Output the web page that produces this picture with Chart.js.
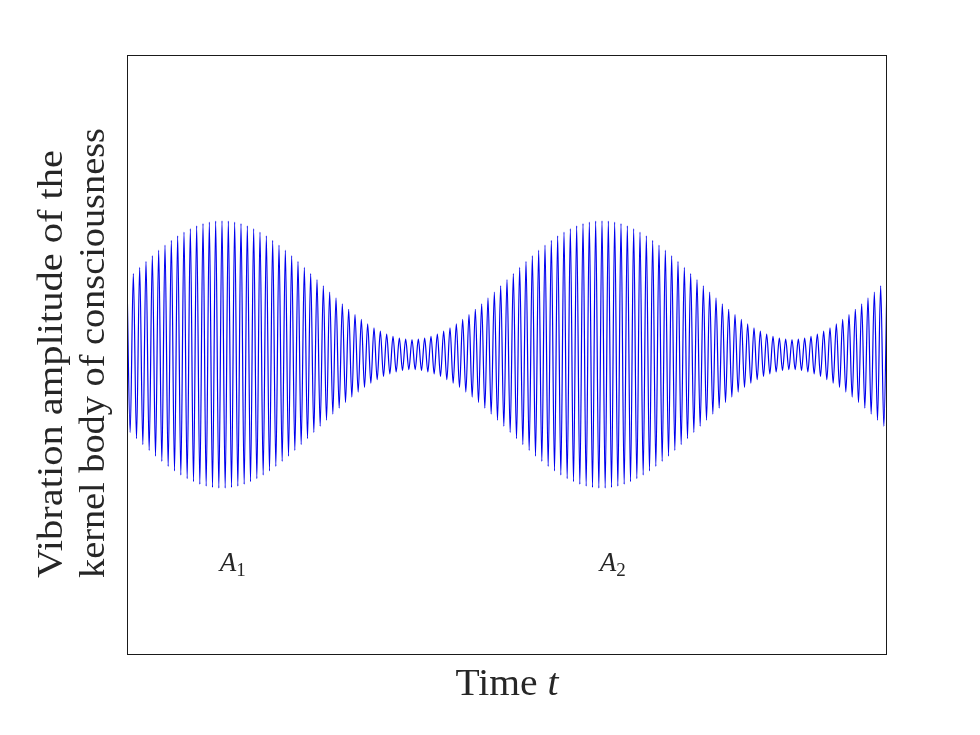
<!DOCTYPE html>
<html>
<head>
<meta charset="utf-8">
<script src="https://cdn.jsdelivr.net/npm/chart.js@4/dist/chart.umd.min.js"></script>
<style>
  body { margin: 0; background: #fff; }
  #wrap { width: 980px; height: 735px; }
</style>
</head>
<body>
<div id="wrap"><canvas id="mycanvas" width="980" height="735"></canvas></div>
<script>
// upper extrema of the carrier, one per cycle
var peakValues = [1.119,1.211,1.303,1.392,1.478,1.560,1.637,1.709,1.774,1.832,1.882,1.924,1.957,1.981,1.995,2.000,
  1.995,1.981,1.957,1.924,1.882,1.832,1.774,1.709,1.637,1.560,1.478,1.392,1.303,1.211,1.119,1.027,0.935,0.846,0.759,0.676,0.598,0.525,0.459,0.400,0.349,0.306,0.271,0.246,0.230,0.224,
  0.230,0.246,0.271,0.306,0.349,0.400,0.459,0.525,0.598,0.676,0.759,0.846,0.935,1.027,1.119,1.211,1.303,1.392,1.478,1.560,1.637,1.709,1.774,1.832,1.882,1.924,1.957,1.981,1.995,2.000,
  1.995,1.981,1.957,1.924,1.882,1.832,1.774,1.709,1.637,1.560,1.478,1.392,1.303,1.211,1.119,1.027,0.935,0.846,0.759,0.676,0.598,0.525,0.459,0.400,0.349,0.306,0.271,0.246,0.230,0.224,
  0.230,0.246,0.271,0.306,0.349,0.400,0.459,0.525,0.598,0.676,0.759,0.846,0.935,1.027,1.119]

// lower extrema, half a cycle after each peak
var troughValues = [-1.165,-1.257,-1.348,-1.435,-1.519,-1.599,-1.673,-1.742,-1.803,-1.857,-1.903,-1.941,-1.969,-1.988,-1.998,
  -1.998,-1.988,-1.969,-1.941,-1.903,-1.857,-1.803,-1.742,-1.673,-1.599,-1.519,-1.435,-1.348,-1.257,-1.165,-1.073,-0.981,-0.891,-0.803,-0.718,-0.637,-0.562,-0.492,-0.430,-0.375,-0.328,-0.289,-0.259,-0.238,-0.227,
  -0.227,-0.238,-0.259,-0.289,-0.328,-0.375,-0.430,-0.492,-0.562,-0.637,-0.718,-0.803,-0.891,-0.981,-1.073,-1.165,-1.257,-1.348,-1.435,-1.519,-1.599,-1.673,-1.742,-1.803,-1.857,-1.903,-1.941,-1.969,-1.988,-1.998,
  -1.998,-1.988,-1.969,-1.941,-1.903,-1.857,-1.803,-1.742,-1.673,-1.599,-1.519,-1.435,-1.348,-1.257,-1.165,-1.073,-0.981,-0.891,-0.803,-0.718,-0.637,-0.562,-0.492,-0.430,-0.375,-0.328,-0.289,-0.259,-0.238,-0.227,
  -0.227,-0.238,-0.259,-0.289,-0.328,-0.375,-0.430,-0.492,-0.562,-0.637,-0.718,-0.803,-0.891,-0.981,-1.073]

var labelNames = ['A', 'A']
var labelSubs = ['1', '2']
var labelX = [16.7, 76.7]
var labelY = -3.14

var yTitle = ['Vibration amplitude of the', 'kernel body of consciousness']
var xTitle = 'Time '
var xTitleVar = 't'

var SERIF = '"Liberation Serif", "DejaVu Serif", serif'

var signal = []
for (var i = 0; i < peakValues.length; i++) {
    signal.push({x: i, y: peakValues[i]})
    if (i < troughValues.length) signal.push({x: i + 0.5, y: troughValues[i]})
}

// draw text stretched to a given width
function fitText(ctx, txt, x, y, width, font){
    ctx.font = font
    var w = ctx.measureText(txt).width
    ctx.save()
    ctx.translate(x, y)
    ctx.scale(width / w, 1)
    ctx.fillText(txt, 0, 0)
    ctx.restore()
}

var decorations = {
    id: 'decorations',
    afterDraw: function(chart){
        var ctx = chart.ctx
        var a = chart.chartArea
        var xs = chart.scales.x, ys = chart.scales.y
        ctx.save()
        // frame
        ctx.strokeStyle = '#1a1a1a'
        ctx.lineWidth = 1
        ctx.strokeRect(Math.round(a.left) + 0.5, Math.round(a.top) + 0.5, Math.round(a.right - a.left) - 1, Math.round(a.bottom - a.top))

        ctx.fillStyle = '#262626'
        ctx.textBaseline = 'alphabetic'
        ctx.textAlign = 'left'

        // y title, two left aligned lines rotated
        ctx.save()
        ctx.rotate(-Math.PI / 2)
        fitText(ctx, yTitle[0], -578, 62, 428, '36px ' + SERIF)
        fitText(ctx, yTitle[1], -578, 104, 450, '36px ' + SERIF)
        ctx.restore()

        // x title
        ctx.font = '37px ' + SERIF
        var w1 = ctx.measureText(xTitle).width
        ctx.font = 'italic 37px ' + SERIF
        var w2 = ctx.measureText(xTitleVar).width
        var cx = (a.left + a.right) / 2
        var sx = 103 / (w1 + w2)
        ctx.save()
        ctx.translate(cx - 103 / 2, 695)
        ctx.scale(sx, 1)
        ctx.font = '37px ' + SERIF
        ctx.fillText(xTitle, 0, 0)
        ctx.font = 'italic 37px ' + SERIF
        ctx.fillText(xTitleVar, w1, 0)
        ctx.restore()

        // A1, A2 markers
        for (var k = 0; k < labelNames.length; k++) {
            var px = xs.getPixelForValue(labelX[k])
            var py = ys.getPixelForValue(labelY) + 7
            ctx.font = 'italic 27px ' + SERIF
            var aw = ctx.measureText(labelNames[k]).width
            ctx.font = '19px ' + SERIF
            var sw = ctx.measureText(labelSubs[k]).width
            var left = px - (aw + sw) / 2
            ctx.font = 'italic 27px ' + SERIF
            ctx.fillText(labelNames[k], left, py)
            ctx.font = '19px ' + SERIF
            ctx.fillText(labelSubs[k], left + aw, py + 5)
        }
        ctx.restore()
    }
}

function create_wave(){
    var context = document.getElementById('mycanvas').getContext('2d')
    new Chart(context, {
        type: 'line',
        data: {
            datasets: [{
                data: signal,
                borderColor: '#0000f0',
                borderWidth: 1.2,
                pointRadius: 0,
                fill: false,
                cubicInterpolationMode: 'monotone'
            }]
        },
        options: {
            responsive: false,
            animation: false,
            devicePixelRatio: 1,
            layout: { padding: { left: 127, right: 93, top: 55, bottom: 81 } },
            plugins: { legend: { display: false }, tooltip: { enabled: false } },
            scales: {
                x: { type: 'linear', min: 0, max: 120, display: false },
                y: { min: -4.48, max: 4.48, display: false }
            }
        },
        plugins: [decorations]
    })
}

create_wave()
</script>
</body>
</html>
